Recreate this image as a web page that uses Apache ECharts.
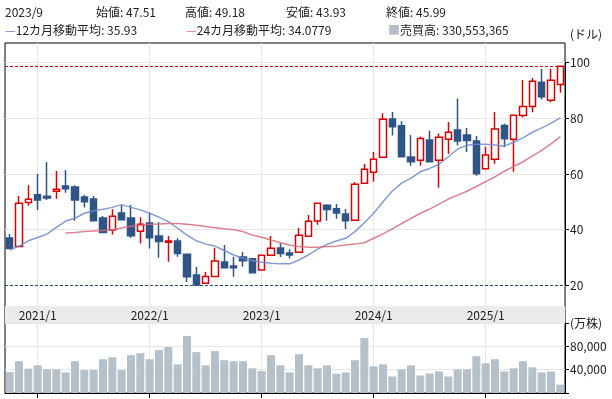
<!DOCTYPE html>
<html lang="ja">
<head>
<meta charset="UTF-8">
<title>株価チャート</title>
<style>
html, body { margin: 0; padding: 0; background: #fff; }
#main { width: 612px; height: 399px; }
</style>
</head>
<body>
<div id="main"></div>
<script src="https://cdn.jsdelivr.net/npm/echarts@6/dist/echarts.min.js"></script>
<script>
// 月次データ (2020/10 - 2025/9)
var dates = [
  '2020/10','2020/11','2020/12',
  '2021/1','2021/2','2021/3','2021/4','2021/5','2021/6','2021/7','2021/8','2021/9','2021/10','2021/11','2021/12',
  '2022/1','2022/2','2022/3','2022/4','2022/5','2022/6','2022/7','2022/8','2022/9','2022/10','2022/11','2022/12',
  '2023/1','2023/2','2023/3','2023/4','2023/5','2023/6','2023/7','2023/8','2023/9','2023/10','2023/11','2023/12',
  '2024/1','2024/2','2024/3','2024/4','2024/5','2024/6','2024/7','2024/8','2024/9','2024/10','2024/11','2024/12',
  '2025/1','2025/2','2025/3','2025/4','2025/5','2025/6','2025/7','2025/8','2025/9'
];
var opens = [
  37.0, 33.9, 49.8, 52.5, 52.0, 53.8, 55.7, 55.3, 51.7, 51.0, 44.2, 39.9,
  46.0, 44.2, 39.4, 42.4, 37.7, 35.5, 35.9, 31.2, 23.7, 20.7, 23.2, 28.4,
  26.9, 30.2, 29.5, 25.5, 30.8, 33.4, 31.6, 31.9, 37.6, 43.1, 48.8, 47.51,
  45.6, 43.4, 56.7, 60.6, 66.0, 79.8, 77.3, 66.1, 64.9, 72.2, 64.9, 72.5,
  75.8, 74.0, 71.9, 61.9, 65.3, 77.4, 72.5, 81.0, 84.3, 93.0, 86.5, 92.2
];
var closes = [
  33.2, 49.5, 50.9, 50.7, 51.4, 54.5, 54.7, 50.7, 50.0, 43.2, 39.0, 44.8,
  43.6, 37.8, 41.9, 37.1, 35.7, 35.9, 31.4, 23.1, 20.1, 23.2, 28.7, 26.3,
  26.3, 28.8, 24.5, 30.8, 33.3, 31.4, 30.9, 38.0, 43.0, 49.5, 47.2, 45.99,
  43.2, 56.3, 61.7, 65.3, 79.7, 77.0, 66.2, 64.4, 72.8, 64.4, 73.2, 75.0,
  71.9, 72.0, 60.1, 66.8, 76.2, 72.7, 81.1, 84.3, 93.3, 87.8, 93.7, 98.7
];
var lows = [
  33.0, 33.7, 48.6, 47.1, 50.7, 51.1, 53.3, 43.2, 48.0, 43.0, 38.8, 38.3,
  43.4, 37.1, 35.0, 33.2, 29.9, 28.5, 30.3, 21.2, 20.0, 20.6, 23.0, 26.0,
  23.1, 26.7, 24.2, 25.4, 30.7, 30.2, 29.6, 31.8, 37.5, 41.8, 43.2, 43.93,
  40.2, 43.3, 56.6, 57.2, 65.9, 73.8, 66.1, 63.0, 63.0, 64.2, 55.1, 67.2,
  70.2, 67.9, 59.4, 61.5, 63.7, 69.6, 60.8, 80.4, 82.2, 86.8, 85.8, 89.2
];
var highs = [
  38.4, 52.1, 56.0, 60.0, 64.3, 61.1, 61.4, 56.0, 52.5, 52.1, 44.9, 47.3,
  48.9, 48.9, 44.5, 46.1, 42.7, 37.7, 36.9, 31.3, 26.6, 24.8, 33.5, 34.5,
  30.3, 32.0, 29.7, 31.1, 37.7, 35.2, 33.0, 40.6, 45.3, 49.6, 49.1, 49.18,
  47.4, 57.1, 63.6, 67.9, 81.8, 82.3, 79.0, 74.0, 73.5, 75.5, 74.6, 78.7,
  87.1, 76.5, 73.7, 69.8, 82.3, 78.1, 81.2, 93.8, 94.5, 97.7, 97.7, 98.9
];
// 12カ月移動平均
var ma12 = [
  32.7, 34.1, 36.0, 37.2, 38.4, 40.8, 43.1, 44.1, 45.9, 46.8, 47.3, 48.0,
  49.0, 48.0, 47.1, 45.9, 44.5, 42.9, 40.5, 38.0, 36.0, 34.8, 34.1, 32.5,
  30.9, 29.7, 28.8, 28.3, 27.9, 27.7, 27.7, 29.1, 30.9, 33.0, 34.7, 35.93,
  36.9, 39.3, 42.5, 45.9, 50.0, 53.9, 56.7, 58.5, 60.8, 62.0, 63.5, 66.2,
  69.0, 70.3, 70.7, 70.7, 70.4, 70.0, 71.4, 73.0, 75.0, 76.6, 78.2, 80.2
];
// 24カ月移動平均
var ma24 = [
  null, null, null, null, null, null, 38.8, 39.0, 39.3, 39.5, 39.7, 39.9,
  40.6, 41.2, 41.6, 41.9, 42.0, 42.2, 42.2, 41.9, 41.6, 41.1, 40.7, 40.3,
  40.0, 39.3, 38.1, 37.3, 36.3, 35.3, 34.5, 33.9, 33.7, 33.7, 33.9, 34.0779,
  34.5, 34.8, 35.3, 36.9, 38.5, 40.3, 42.2, 44.0, 45.9, 47.4, 49.2, 51.0,
  52.4, 53.8, 55.5, 57.2, 59.0, 61.0, 62.7, 64.4, 66.4, 68.5, 70.8, 73.4
];
// 売買高 (万株)
var volumes = [
  35800, 54400, 41700, 47500, 40500, 40500, 35300, 54400, 39300, 39300, 57900, 61400,
  39300, 64900, 68300, 57900, 73600, 78800, 49200, 97900, 70100, 47500, 71800, 56200,
  54400, 54400, 42300, 37600, 64900, 47500, 35300, 66600, 47500, 42300, 47500, 33055.3365,
  35300, 56200, 94400, 45800, 49200, 28300, 40500, 47500, 30100, 33600, 37000, 28300,
  40500, 40500, 63100, 51000, 57900, 37000, 42300, 54400, 44000, 35300, 37000, 14400
];

var sel = 35; // 表示中の月 (2023/9)

var FONT = '"Noto Sans CJK JP", "Noto Sans", sans-serif';
var candles = dates.map(function (d, i) {
  return [opens[i], closes[i], lows[i], highs[i]];
});
function isJan(idx, val) {
  return /\/1$/.test(val);
}
function hdr(x, y, text, rich) {
  return {
    type: 'text', x: x, y: y, silent: true,
    style: {
      text: text, fill: '#222', font: '12px ' + FONT,
      verticalAlign: 'middle', rich: rich || {}
    }
  };
}

var chart = echarts.init(document.getElementById('main'));
var L = 5, R = 47;

var option = {
  animation: false,
  backgroundColor: '#fff',
  textStyle: { fontFamily: FONT },
  graphic: [
    hdr(5, 12, dates[sel]),
    hdr(96, 12, '始値: ' + opens[sel].toFixed(2)),
    hdr(185, 12, '高値: ' + highs[sel].toFixed(2)),
    hdr(286, 12, '安値: ' + lows[sel].toFixed(2)),
    hdr(386, 12, '終値: ' + closes[sel].toFixed(2)),
    hdr(5, 30, '{a|—}12カ月移動平均: ' + ma12[sel], { a: { fill: '#5b7bc4', font: '12px ' + FONT } }),
    hdr(186, 30, '{a|—}24カ月移動平均: ' + ma24[sel], { a: { fill: '#d86c7c', font: '12px ' + FONT } }),
    hdr(388, 30, '{a|■}売買高: ' + Math.round(volumes[sel] * 10000).toLocaleString('en-US'), { a: { fill: '#b3bec8', font: '12px ' + FONT } }),
    hdr(570, 34, '(ドル)')
  ],
  grid: [
    // 枠
    { left: L, right: R, top: 43, bottom: 6, show: true, borderColor: '#000', borderWidth: 1, backgroundColor: 'transparent' },
    // 価格エリアの縦グリッド
    { left: L, right: R, top: 43, height: 263 },
    // 価格
    { left: L, right: R, top: 62.7, height: 222.6 },
    // 日付帯
    { left: L, right: R, top: 306, height: 17, show: true, backgroundColor: '#ebebeb', borderWidth: 0 },
    // 売買高
    { left: L, right: R, top: 323, bottom: 6 }
  ],
  xAxis: [
    { gridIndex: 0, type: 'category', data: dates, show: false },
    {
      gridIndex: 1, type: 'category', data: dates,
      axisLine: { show: false }, axisTick: { show: false }, axisLabel: { show: false },
      splitLine: { show: true, interval: isJan, alignWithLabel: true, lineStyle: { color: '#e6e6e6' } }
    },
    { gridIndex: 2, type: 'category', data: dates, show: false },
    {
      gridIndex: 3, type: 'category', data: dates,
      axisLine: { show: false }, axisTick: { show: false },
      axisLabel: { inside: true, interval: isJan, margin: 2, color: '#222', fontSize: 12 },
      splitLine: { show: false }
    },
    {
      gridIndex: 4, type: 'category', data: dates,
      axisLine: { show: true, lineStyle: { color: '#000' } },
      axisTick: { show: true, interval: isJan, alignWithLabel: true, length: 5, lineStyle: { color: '#000' } },
      axisLabel: { show: false },
      splitLine: { show: true, interval: isJan, alignWithLabel: true, lineStyle: { color: '#e6e6e6' } }
    }
  ],
  yAxis: [
    { gridIndex: 0, type: 'value', show: false },
    { gridIndex: 1, type: 'value', show: false },
    {
      gridIndex: 2, type: 'value', position: 'right', min: 20, max: 100, interval: 20,
      axisLine: { show: true, lineStyle: { color: '#000' } },
      axisTick: { show: true, length: 4, lineStyle: { color: '#000' } },
      axisLabel: { margin: 5, color: '#222', fontSize: 12 },
      splitLine: { lineStyle: { color: '#e6e6e6' } }
    },
    { gridIndex: 3, type: 'value', show: false },
    {
      gridIndex: 4, type: 'value', position: 'right', min: 0, max: 120000, interval: 40000,
      axisLine: { show: true, lineStyle: { color: '#000' } },
      axisTick: { show: true, length: 4, lineStyle: { color: '#000' } },
      axisLabel: {
        margin: 5, color: '#222', fontSize: 12,
        formatter: function (v) {
          if (v === 0) return '';
          if (v === 120000) return '(万株)';
          return v.toLocaleString('en-US');
        }
      },
      splitLine: { lineStyle: { color: '#e6e6e6' } }
    }
  ],
  series: [
    {
      name: '株価', type: 'candlestick', xAxisIndex: 2, yAxisIndex: 2,
      data: candles, barWidth: 7,
      itemStyle: {
        color: '#ffffff', color0: '#2f5486',
        borderColor: '#dd0000', borderColor0: '#2f5486', borderWidth: 1.5
      },
      markLine: {
        silent: true, symbol: 'none', label: { show: false },
        data: [
          { type: 'max', valueDim: 'highest', lineStyle: { color: '#dd0000', type: [3, 2], width: 1 } },
          { type: 'min', valueDim: 'lowest', lineStyle: { color: '#2b4a7c', type: [3, 2], width: 1 } }
        ]
      }
    },
    {
      name: '12カ月移動平均', type: 'line', xAxisIndex: 2, yAxisIndex: 2,
      data: ma12, symbol: 'none', silent: true,
      lineStyle: { color: '#6d8bd0', width: 1.5, opacity: 0.85 }
    },
    {
      name: '24カ月移動平均', type: 'line', xAxisIndex: 2, yAxisIndex: 2,
      data: ma24, symbol: 'none', silent: true,
      lineStyle: { color: '#d86c7c', width: 1.5, opacity: 0.85 }
    },
    {
      name: '売買高', type: 'bar', xAxisIndex: 4, yAxisIndex: 4,
      data: volumes, barWidth: 8, silent: true,
      itemStyle: { color: '#b5c1ca' }
    }
  ]
};

chart.setOption(option);
</script>
</body>
</html>
